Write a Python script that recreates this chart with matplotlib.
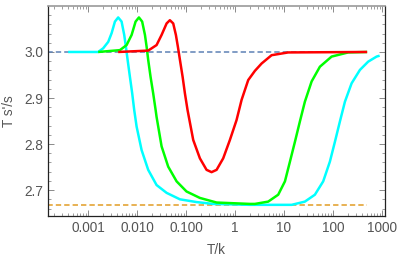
import numpy as np
import matplotlib.pyplot as plt

# cyan curve
t_cyan = [0.000396, 0.00162, 0.00205, 0.0026, 0.00305, 0.00356, 0.00415, 0.00487,
          0.00551, 0.00597, 0.00646, 0.0072, 0.00802, 0.00881, 0.00986, 0.01247,
          0.017, 0.0252, 0.0404, 0.0755, 0.165, 0.361, 2.02, 14.4, 26.8, 42.9,
          63.4, 86.9, 110, 139, 176, 241, 356, 525, 780, 900]
s_cyan = [3.0, 3.0, 3.008, 3.022, 3.041, 3.066, 3.075, 3.066,
          3.037, 3.011, 2.983, 2.946, 2.910, 2.874, 2.838, 2.787,
          2.744, 2.711, 2.694, 2.680, 2.674, 2.670, 2.668, 2.668, 2.675, 2.690,
          2.719, 2.762, 2.805, 2.849, 2.892, 2.932, 2.961, 2.979, 2.990, 2.992]

# green curve
t_green = [0.00162, 0.0045, 0.00616, 0.0078, 0.0094, 0.011, 0.0128, 0.0146, 0.0158,
           0.017, 0.019, 0.0215, 0.0241, 0.0252, 0.0319, 0.0435, 0.0646, 0.103,
           0.193, 0.423, 2.02, 2.56, 4.78, 7.65, 10.5, 13.3, 16.8, 21.2, 26.8,
           36.8, 54.3, 94.1, 205, 500]
s_green = [3.0, 3.004, 3.015, 3.037, 3.066, 3.075, 3.066, 3.037, 3.011,
           2.983, 2.946, 2.910, 2.874, 2.859, 2.795, 2.751, 2.719, 2.697,
           2.683, 2.673, 2.670, 2.670, 2.675, 2.690, 2.719, 2.762, 2.805, 2.849, 2.892,
           2.936, 2.968, 2.990, 2.999, 3.0]

# red curve
t_red = [0.00415, 0.017, 0.0252, 0.0319, 0.0404, 0.0471, 0.0551, 0.0625, 0.0687,
         0.0755, 0.0857, 0.0955, 0.108, 0.141, 0.193, 0.264, 0.334, 0.423, 0.577,
         0.791, 1.08, 1.37, 1.87, 2.56, 3.51, 5.61, 12.2, 500]
s_red = [3.0, 3.003, 3.015, 3.037, 3.062, 3.069, 3.062, 3.037, 3.011,
         2.983, 2.946, 2.910, 2.874, 2.809, 2.769, 2.744, 2.739, 2.744, 2.769,
         2.809, 2.852, 2.896, 2.939, 2.959, 2.975, 2.993, 2.999, 3.0]

# asymptotes
t_ref = [1e-4, 500]
s_high = [3.0, 3.0]
s_low = [8 / 3, 8 / 3]

plt.rcParams['font.family'] = ['Liberation Sans', 'DejaVu Sans']

fig = plt.figure(figsize=(4.03, 2.62), dpi=100)
ax = fig.add_axes([0.119, 0.176, 0.836, 0.801])

ax.plot(t_ref, s_high, color='#5E81B5', lw=1.1, dashes=(3.5, 2))
ax.plot(t_ref, s_low, color='#E19C24', lw=1.1, dashes=(3.5, 2))
for t, s, c in [(t_cyan, s_cyan, '#00FFFF'), (t_green, s_green, '#00FF00'),
                (t_red, s_red, '#FF0000')]:
    ax.plot(t, s, color=c, lw=1.8, solid_joinstyle='round', solid_capstyle='butt')

ax.set_xscale('log')
ax.set_xlim(1.53e-4, 1150)
ax.set_ylim(2.644, 3.0998)

ax.set_xticks([0.001, 0.01, 0.1, 1, 10, 100, 1000])
ax.set_xticklabels(['0.001', '0.010', '0.100', '1', '10', '100', '1000'])
ax.set_yticks([2.7, 2.8, 2.9, 3.0])
ax.set_yticks(np.arange(2.66, 3.1, 0.02), minor=True)

ax.tick_params(which='both', direction='in', top=True, right=True,
               labelcolor='#555555', labelsize=9.8, color='#777777')
ax.tick_params(which='major', length=4, width=0.6)
ax.tick_params(which='minor', length=2, width=0.5)
ax.xaxis.set_minor_formatter(plt.NullFormatter())

for side in ['left', 'bottom', 'right']:
    ax.spines[side].set_color('#222222')
    ax.spines[side].set_linewidth(0.9)
ax.spines['top'].set_color('#999999')
ax.spines['top'].set_linewidth(1.2)

ax.set_xlabel('T/k', color='#555555', fontsize=9.8, labelpad=6)
ax.set_ylabel("T s'/s", color='#555555', fontsize=9.8, labelpad=6)

fig.savefig('out.png', dpi=100)
